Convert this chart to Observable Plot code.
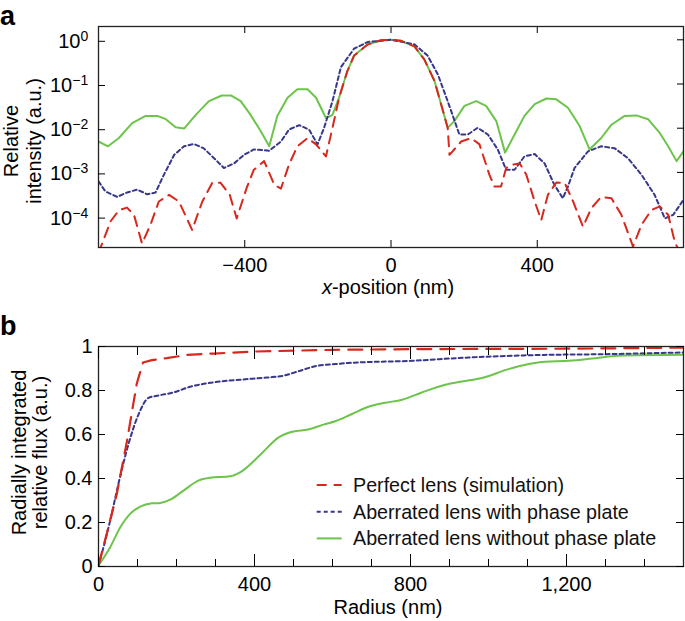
<!DOCTYPE html>
<html><head><meta charset="utf-8">
<script src="https://cdn.jsdelivr.net/npm/d3@7"></script>
<script src="https://cdn.jsdelivr.net/npm/@observablehq/plot@0.6"></script>
<style>
body{margin:0;background:#fff;font-family:"Liberation Sans",Arial,Helvetica,sans-serif;}
#wrap{position:relative;width:685px;height:621px;overflow:hidden;}
#wrap > svg{position:absolute;left:0;}
</style></head>
<body><div id="wrap"></div>
<script>
const RED = "#d8281e", BLUE = "#37378b", GREEN = "#6cc44a";
const FONT = "Liberation Sans, Arial, Helvetica, sans-serif";

// ---------- Panel a: relative intensity vs x-position (nm) ----------
const xRedA = [-800,-767,-744,-722,-703,-681,-658,-635,-607,-580,-544,-516,-489,-466,-441,-422,-395,-375,-347,-319,-301,-279,-256,-228,-205,-178,-160,-142,-120,-101,-64,-27,0,27,64,91,119,137,155,160,192,219,242,269,283,301,315,333,352,370,393,411,429,452,475,498,525,548,575,603,630,662,685,712,735,758,776,800];
const yRedA = [0.000015,0.000078,0.00014,0.00016,0.00011,0.0000245,0.000065,0.00022,0.00031,0.00022,0.00005,0.00022,0.00058,0.00058,0.00031,0.000091,0.00044,0.00115,0.0018,0.00052,0.00043,0.0015,0.0039,0.0060,0.0043,0.0023,0.0102,0.049,0.19,0.44,0.78,0.98,1,0.95,0.71,0.36,0.117,0.035,0.0102,0.0025,0.0050,0.0060,0.0043,0.00089,0.00048,0.00048,0.00126,0.0015,0.0016,0.00089,0.00022,0.000083,0.00031,0.00059,0.00058,0.00022,0.000059,0.000155,0.00028,0.00026,0.00011,0.000021,0.000065,0.00014,0.00017,0.00011,0.000027,0.00001];

const xBlueA = [-800,-781,-749,-722,-694,-667,-644,-621,-593,-566,-539,-512,-484,-457,-429,-402,-375,-333,-301,-279,-251,-224,-201,-183,-160,-137,-101,-64,0,64,100,128,155,187,210,237,265,292,315,338,365,393,420,447,470,484,502,539,575,612,648,685,721,749,772,800];
const yBlueA = [0.00063,0.00037,0.00028,0.00035,0.00041,0.00032,0.00035,0.00089,0.0025,0.0039,0.0044,0.0035,0.0021,0.00126,0.0016,0.0025,0.0033,0.0031,0.0050,0.0093,0.0117,0.0093,0.0043,0.0102,0.041,0.24,0.63,0.89,1,0.79,0.44,0.166,0.041,0.0072,0.0072,0.0102,0.0072,0.0033,0.00115,0.00115,0.0023,0.0026,0.0016,0.00052,0.00026,0.00048,0.00126,0.0030,0.0039,0.0035,0.0021,0.00089,0.00031,0.000091,0.00011,0.00024];

const xGreenA = [-800,-774,-744,-708,-671,-639,-616,-589,-566,-534,-498,-463,-438,-411,-384,-356,-333,-311,-283,-256,-228,-205,-178,-160,-142,-120,-101,-64,-27,0,27,64,91,119,137,155,173,201,233,260,288,312,338,365,393,425,452,484,516,543,575,603,639,671,703,735,758,781,800];
const yGreenA = [0.0050,0.0039,0.0060,0.013,0.019,0.019,0.016,0.0105,0.0098,0.020,0.041,0.055,0.055,0.041,0.020,0.0085,0.0039,0.019,0.049,0.076,0.076,0.049,0.017,0.020,0.049,0.19,0.44,0.78,0.98,1,0.95,0.71,0.36,0.117,0.035,0.0102,0.0145,0.032,0.041,0.032,0.0145,0.0028,0.0072,0.019,0.035,0.047,0.045,0.029,0.0112,0.0033,0.0060,0.012,0.019,0.0195,0.016,0.0078,0.0039,0.0018,0.0030];

const xTicksA = [-400, 0, 400];
const yTicksA = [1, 0.1, 0.01, 0.001, 0.0001];

// ---------- Panel b: radially integrated relative flux vs radius (nm) ----------
const rRedB = [0,21,47,73,98,114,137,175,227,295,397,603,800,1000,1200,1400,1500];
const fRedB = [0.005,0.148,0.33,0.57,0.83,0.927,0.938,0.947,0.962,0.968,0.977,0.985,0.988,0.989,0.990,0.993,0.995];

const rBlueB = [0,13,30,51,77,103,128,150,192,235,295,363,432,474,517,560,607,641,803,949,1120,1291,1500];
const fBlueB = [0.005,0.088,0.209,0.375,0.557,0.693,0.766,0.776,0.791,0.817,0.837,0.849,0.859,0.867,0.890,0.912,0.920,0.925,0.935,0.950,0.961,0.965,0.973];

const rGreenB = [0,30,56,81,107,137,158,184,218,256,286,338,363,415,462,492,543,577,607,650,692,735,778,829,889,932,983,1051,1103,1145,1205,1274,1333,1500];
const fGreenB = [0.005,0.088,0.178,0.239,0.272,0.287,0.289,0.304,0.345,0.390,0.403,0.410,0.428,0.508,0.587,0.610,0.625,0.645,0.660,0.693,0.726,0.744,0.758,0.791,0.826,0.841,0.857,0.897,0.920,0.931,0.935,0.947,0.958,0.962];

const xMajorB = [0, 400, 800, 1200];
const xMinorB = [100,200,300,500,600,700,900,1000,1100,1300,1400];
const yTicksB = [0, 0.2, 0.4, 0.6, 0.8, 1];

const legendLabels = ["Perfect lens (simulation)", "Aberrated lens with phase plate", "Aberrated lens without phase plate"];
const legendColors = [RED, BLUE, GREEN];
const legendDash = ["10,7", "4,3", null];

const zip = (xs, ys) => xs.map((x, i) => ({x, y: ys[i]}));
const redA = zip(xRedA, yRedA), blueA = zip(xBlueA, yBlueA), greenA = zip(xGreenA, yGreenA);
const redB = zip(rRedB, fRedB), blueB = zip(rBlueB, fBlueB), greenB = zip(rGreenB, fGreenB);

const baseStyle = {fontFamily: FONT, fontSize: "20px", color: "#000", background: "transparent", overflow: "visible"};

const plotA = Plot.plot({
  width: 685, height: 300,
  marginTop: 26, marginLeft: 98, marginRight: 2, marginBottom: 53,
  style: baseStyle,
  x: {domain: [-800, 800], label: null},
  y: {type: "log", domain: [2e-5, 2], label: null},
  marks: [
    Plot.line(greenA, {x: "x", y: "y", stroke: GREEN, strokeWidth: 2, clip: true}),
    Plot.line(blueA, {x: "x", y: "y", stroke: BLUE, strokeWidth: 2, strokeDasharray: "4,3", clip: true}),
    Plot.line(redA, {x: "x", y: "y", stroke: RED, strokeWidth: 2, strokeDasharray: "10,7", clip: true}),
    Plot.frame({stroke: "#222", strokeWidth: 1.3}),
    Plot.axisX({anchor: "bottom", ticks: xTicksA, tickSize: -7, tickPadding: 17.5, label: null}),
    Plot.axisX({anchor: "top", ticks: xTicksA, tickSize: -6, fill: "none", label: null}),
    Plot.axisY({anchor: "left", ticks: yTicksA, tickSize: -7, tickPadding: 17.3, dy: 1.5, label: null,
      tickFormat: d => "10^" + String(Math.round(Math.log10(d))).replace("-", "\u2212")}),
    Plot.axisY({anchor: "right", ticks: yTicksA, tickSize: -7, fill: "none", label: null}),
    Plot.text(["x-position (nm)"], {text: d => d, frameAnchor: "bottom", dx: -3, dy: 40, lineAnchor: "middle", fontSize: 20}),
    Plot.text(["Relative\nintensity (a.u.)"], {text: d => d, frameAnchor: "left", rotate: -90, dx: -76.3, dy: 4,
      lineAnchor: "middle", textAnchor: "middle", lineHeight: 1.175, fontSize: 20})
  ]
});

const plotB = Plot.plot({
  width: 685, height: 321,
  marginTop: 46, marginLeft: 98, marginRight: 2, marginBottom: 55,
  style: baseStyle,
  x: {domain: [0, 1500], label: null},
  y: {domain: [0, 1], label: null},
  marks: [
    Plot.line(greenB, {x: "x", y: "y", stroke: GREEN, strokeWidth: 2, curve: "monotone-x", clip: true}),
    Plot.line(blueB, {x: "x", y: "y", stroke: BLUE, strokeWidth: 2, strokeDasharray: "4,3", curve: "monotone-x", clip: true}),
    Plot.line(redB, {x: "x", y: "y", stroke: RED, strokeWidth: 2.2, strokeDasharray: "14,9", clip: true}),
    Plot.frame({stroke: "#222", strokeWidth: 1.3}),
    Plot.axisX({anchor: "bottom", ticks: xMajorB, tickSize: -12, tickPadding: 21.8, tickFormat: d3.format(","), label: null}),
    Plot.axisX({anchor: "bottom", ticks: xMinorB, tickSize: -7, fill: "none", label: null}),
    Plot.axisX({anchor: "top", ticks: xMajorB, tickSize: -12, fill: "none", label: null}),
    Plot.axisX({anchor: "top", ticks: xMinorB, tickSize: -8, fill: "none", label: null}),
    Plot.axisY({anchor: "left", ticks: yTicksB, tickSize: -7, tickPadding: 13, tickFormat: d => String(d), label: null}),
    Plot.axisY({anchor: "right", ticks: yTicksB, tickSize: -8, fill: "none", label: null}),
    Plot.text(["Radius (nm)"], {text: d => d, frameAnchor: "bottom", dx: -3, dy: 41, lineAnchor: "middle", fontSize: 20}),
    Plot.text(["Radially integrated\nrelative flux (a.u.)"], {text: d => d, frameAnchor: "left", rotate: -90, dx: -68.5, dy: -4,
      lineAnchor: "middle", textAnchor: "middle", lineHeight: 1.05, fontSize: 20})
  ]
});

const wrap = document.getElementById("wrap");
plotA.style.top = "0px";
plotB.style.top = "300px";
wrap.appendChild(plotA);
wrap.appendChild(plotB);

// superscript exponents on the log axis, italic x in the axis title
d3.select(plotA).selectAll("text").each(function() {
  const t = this.textContent;
  if (t.startsWith("10^")) {
    const e = t.slice(3);
    const s = d3.select(this);
    s.text(null);
    s.append("tspan").text("10");
    s.append("tspan").attr("dy", -7).attr("font-size", "14px").text(e);
  } else if (t === "x-position (nm)") {
    const s = d3.select(this);
    s.text(null);
    s.append("tspan").attr("font-style", "italic").text("x");
    s.append("tspan").text("-position (nm)");
  }
});

// overlay: panel letters and legend
const ov = d3.select(wrap).append("svg")
  .attr("width", 685).attr("height", 621)
  .style("position", "absolute").style("top", "0px").style("left", "0px")
  .style("font-family", FONT);
ov.append("text").attr("x", 0).attr("y", 25).attr("font-size", 27).attr("font-weight", "bold").text("a");
ov.append("text").attr("x", 0).attr("y", 335).attr("font-size", 27).attr("font-weight", "bold").text("b");
const lg = ov.append("g");
legendLabels.forEach((lab, i) => {
  const cy = 485 + i * 26.7;
  lg.append("line").attr("x1", 316.7).attr("x2", 341.7).attr("y1", cy).attr("y2", cy)
    .attr("stroke", legendColors[i]).attr("stroke-width", 2)
    .attr("stroke-dasharray", legendDash[i]);
  lg.append("text").attr("x", 353).attr("y", cy + 7).attr("font-size", 19.7).attr("fill", "#111").text(lab);
});
</script>
</body></html>
